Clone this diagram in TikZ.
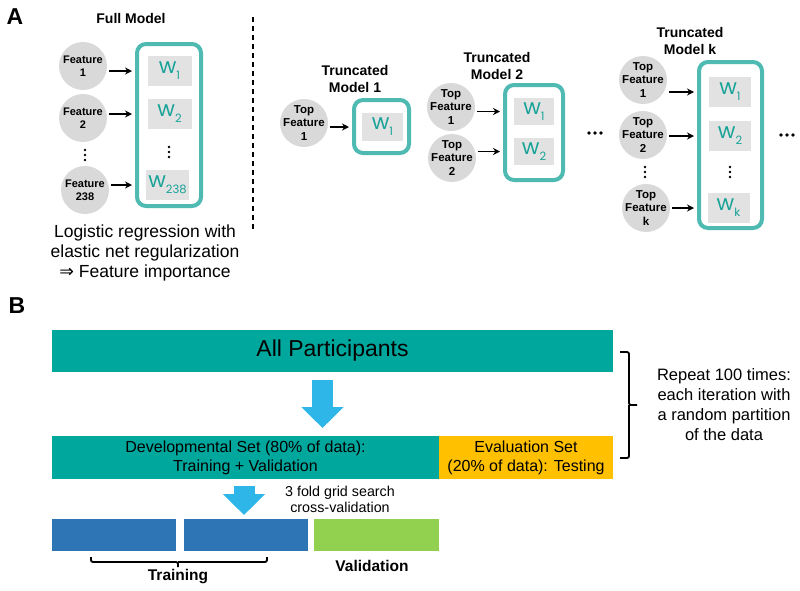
\documentclass[tikz,border=0pt]{standalone}
\usepackage{fontspec}
\setmainfont{Liberation Sans}
\newfontfamily\wfont{Poppins}
\newfontfamily\arrfont{DejaVu Sans}
\usetikzlibrary{arrows.meta}

\definecolor{tealbar}{RGB}{0,167,157}
\definecolor{tealline}{RGB}{78,186,178}
\definecolor{wtext}{RGB}{23,163,152}
\definecolor{featgray}{RGB}{217,217,217}
\definecolor{cellgray}{RGB}{226,226,226}
\definecolor{evalorange}{RGB}{255,192,0}
\definecolor{arrowblue}{RGB}{46,182,232}
\definecolor{foldblue}{RGB}{46,117,182}
\definecolor{foldgreen}{RGB}{146,208,80}

\newcommand{\fsz}[2]{\fontsize{#1}{#2}\selectfont}
\newcommand{\wlab}[1]{{\wfont\fsz{21.5}{21}w\raisebox{-6pt}{\fsz{11.5}{11}#1}}}

\tikzset{
	feat/.style={circle, fill=featgray, minimum size=48pt, inner sep=-6pt, align=center, font=\bfseries\fsz{11}{13}},
	topfeat/.style={feat, font=\bfseries\fsz{11.5}{13.5}},
	wcell/.style={fill=cellgray, inner sep=0pt, minimum width=44pt, minimum height=30pt, text=wtext},
	wframe/.style={draw=tealline, line width=4pt, rounded corners=9pt, inner sep=0pt},
	arr/.style={-{Stealth[length=7pt,width=7pt]}, line width=1.3pt, shorten <=2pt, shorten >=3pt},
	title/.style={font=\bfseries\fsz{14}{17}, align=center},
	bar/.style={inner sep=0pt, align=center, font=\fsz{16}{19}},
	bigarrow/.style={draw=arrowblue, line width=21pt, -{Triangle[length=21pt,width=41pt]}},
	sqbrace/.style={line width=1.8pt, rounded corners=2pt},
	panel/.style={font=\bfseries\fsz{23}{23}}
}

\begin{document}
\begin{tikzpicture}[x=1pt,y=-1pt]
	\useasboundingbox (0,0) rectangle (800,590);

	\node[panel] (pa) at (15,17) {A};
	\node[panel] (pb) at (17,306) {B};

	% full model
	\node[title] (fmtitle) at (131,18) {Full Model};
	\node[feat] (f1) at (83,66) {Feature\\1};
	\node[feat] (f2) at (83,118) {Feature\\2};
	\node[feat] (f3) at (85,190) {Feature\\238};
	\node[wframe, minimum width=64pt, minimum height=162pt] (fm) at (169,125) {};
	\node[wcell] (fw1) at (169.5,71) {\wlab{1}};
	\node[wcell] (fw2) at (169.5,114) {\wlab{2}};
	\node[wcell, minimum width=43pt] (fw3) at (167.5,185) {\wlab{238}};
	\foreach \a/\b in {f1/fw1,f2/fw2,f3/fw3}{
		\draw[arr] (\a.east |- \b) -- (\b -| fm.west);
	}
	\foreach \y in {-5,0,5}{
		\fill (85,155+\y) circle [radius=1.4pt];
		\fill (169,152+\y) circle [radius=1.4pt];
	}
	\node[font=\fsz{17.5}{20}, align=center] (fmnote) at (145,253)
		{Logistic regression with\\elastic net regularization\\{\arrfont ⇒} Feature importance};

	\coordinate (d1) at (253,17);
	\coordinate (d2) at (253,230);
	\draw[dashed, dash pattern=on 5pt off 4pt, line width=1.3pt] (d1) -- (d2);

	% truncated models
	\node[title] (t1) at (355,78.5) {Truncated\\Model 1};
	\node[topfeat] (a1) at (304,123) {Top\\Feature\\1};
	\node[wframe, minimum width=55pt, minimum height=53pt] (m1) at (381.5,126.5) {};
	\node[wcell, minimum width=41pt, minimum height=28pt] (m1w1) at (382.5,127) {\wlab{1}};
	\draw[arr] (a1.east |- m1w1) -- (m1w1 -| m1.west);

	\node[title] (t2) at (497,65.5) {Truncated\\Model 2};
	\node[topfeat] (b1) at (451,107) {Top\\Feature\\1};
	\node[topfeat] (b2) at (452,158) {Top\\Feature\\2};
	\node[wframe, minimum width=58pt, minimum height=95pt] (m2) at (534,132.5) {};
	\node[wcell, minimum width=40pt, minimum height=27pt] (m2w1) at (534,111.5) {\wlab{1}};
	\node[wcell, minimum width=40pt, minimum height=27pt] (m2w2) at (534,151.5) {\wlab{2}};
	\foreach \a/\b in {b1/m2w1,b2/m2w2}{
		\draw[arr] (\a.east |- \b) -- (\b -| m2.west);
	}

	\node[title] (tk) at (690,41) {Truncated\\Model k};
	\node[topfeat] (c1) at (643,80) {Top\\Feature\\1};
	\node[topfeat] (c2) at (643,135) {Top\\Feature\\2};
	\node[topfeat] (c3) at (646,208) {Top\\Feature\\k};
	\node[wframe, minimum width=63pt, minimum height=166pt] (mk) at (730.5,145) {};
	\node[wcell, minimum width=42pt] (mkw1) at (730,92) {\wlab{1}};
	\node[wcell, minimum width=42pt] (mkw2) at (730,136) {\wlab{2}};
	\node[wcell, minimum width=42pt] (mkw3) at (728.5,208) {\wlab{k}};
	\foreach \a/\b in {c1/mkw1,c2/mkw2,c3/mkw3}{
		\draw[arr] (\a.east |- \b) -- (\b -| mk.west);
	}
	\foreach \y in {-5,0,5}{
		\fill (645,172+\y) circle [radius=1.4pt];
		\fill (730,172+\y) circle [radius=1.4pt];
	}
	\foreach \x in {-6,0,6}{
		\fill (595+\x,133) circle [radius=1.8pt];
		\fill (787+\x,135) circle [radius=1.8pt];
	}

	% partition scheme
	\node[bar, fill=tealbar, minimum width=561pt, minimum height=42pt, font=\fsz{23}{23}] (allp) at (332.5,351) {All Participants};
	\node[bar, fill=tealbar, minimum width=387pt, minimum height=43pt] (dev) at (245.5,457.5) {Developmental Set (80\% of data):\\Training + Validation};
	\node[bar, fill=evalorange, minimum width=174pt, minimum height=43pt] (eval) at (526,457.5) {Evaluation Set\\(20\% of data): Testing};

	\coordinate (ba1) at (322.5,380);
	\coordinate (ba2) at (322.5,428);
	\draw[bigarrow] (ba1) -- (ba2);

	\draw[sqbrace] (620,352) -| (629,405) -- (637,405);
	\draw[sqbrace] (629,405) |- (620,458);
	\node[font=\fsz{16.5}{20}, align=center] (repeat) at (724,405) {Repeat 100 times:\\each iteration with\\a random partition\\of the data};

	\node[bar, fill=foldblue, minimum width=124pt, minimum height=32pt] (tr1) at (114,535) {};
	\node[bar, fill=foldblue, minimum width=124pt, minimum height=32pt] (tr2) at (246,535) {};
	\node[bar, fill=foldgreen, minimum width=125pt, minimum height=32pt] (val) at (376.5,535) {};

	\coordinate (sa1) at (244,486);
	\coordinate (sa2) at (244,515);
	\draw[bigarrow] (sa1) -- (sa2);
	\node[font=\fsz{14.3}{15.5}, align=center] (cv) at (340,499.5) {3 fold grid search\\cross-validation};

	\draw[sqbrace] (91,557) |- (178,562) -- (178,567);
	\draw[sqbrace] (178,562) -| (267,557);
	\node[font=\bfseries\fsz{15.5}{15.5}] (trlab) at (178,577) {Training};
	\node[font=\bfseries\fsz{15.5}{15.5}] (vallab) at (372,566) {Validation};
\end{tikzpicture}
\end{document}
